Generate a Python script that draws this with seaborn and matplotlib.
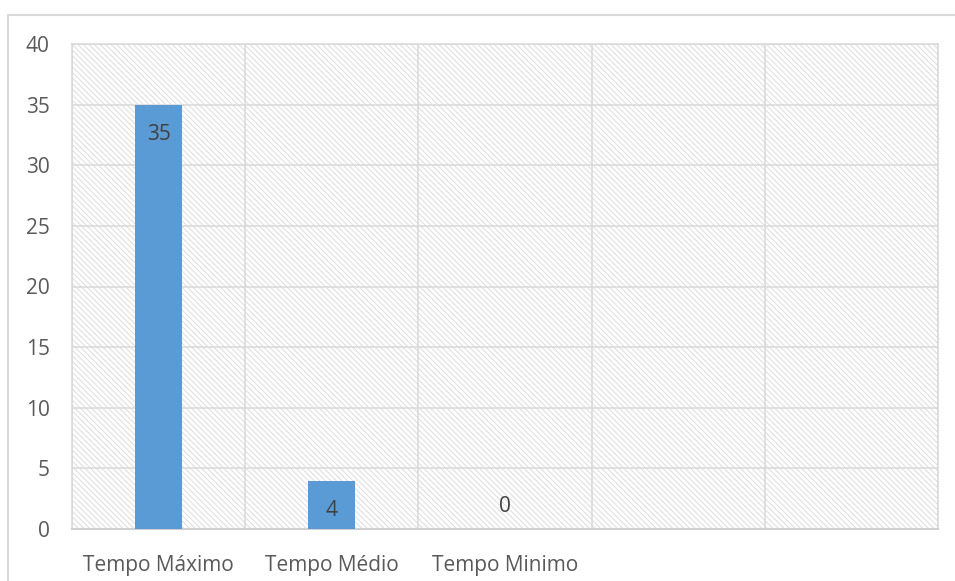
import matplotlib
matplotlib.use("Agg")
import matplotlib.pyplot as plt
import seaborn as sns
import pandas as pd
from matplotlib.patches import Rectangle
from matplotlib.lines import Line2D

categories = ["Tempo Máximo", "Tempo Médio", "Tempo Minimo", " ", "  "]
values = [35, 4, 0, None, None]
yticks = [0, 5, 10, 15, 20, 25, 30, 35, 40]

sns.set_theme(style="white")
plt.rcParams['font.family'] = ['Open Sans', 'DejaVu Sans']
plt.rcParams['hatch.color'] = '#dcdcdc'
plt.rcParams['hatch.linewidth'] = 0.7

df = pd.DataFrame({"cat": categories, "val": values})

fig = plt.figure(figsize=(9.55, 5.81), dpi=100)
ax = fig.add_axes([72/955, 52/581, (938-72)/955, (529-44)/581])

# hatched background
bg = Rectangle((0, 0), 1, 1, transform=ax.transAxes, facecolor='white',
               edgecolor='#dcdcdc', hatch='\\\\\\\\\\\\', lw=0, zorder=0)
ax.add_patch(bg)

sns.barplot(data=df, x="cat", y="val", order=categories, color='#5B9BD5',
            width=0.27, saturation=1, ax=ax, zorder=3, edgecolor='none')

ax.set_ylim(0, 40)
ax.set_xlim(-0.5, len(categories) - 0.5)
ax.set_yticks(yticks)
ax.set_xlabel("")
ax.set_ylabel("")

# gridlines
ax.set_xticks([i + 0.5 for i in range(-1, len(categories))], minor=True)
ax.grid(True, axis='y', which='major', color='#d9d9d9', lw=1.1, zorder=1)
ax.grid(True, axis='x', which='minor', color='#d9d9d9', lw=1.1, zorder=1)
ax.grid(False, axis='x', which='major')
ax.set_axisbelow(True)
for s in ax.spines.values():
    s.set_color('#d9d9d9')
    s.set_linewidth(1.1)
ax.spines['bottom'].set_color('#d0d0d0')
ax.spines['bottom'].set_linewidth(1.5)

ax.tick_params(axis='both', which='both', length=0, colors='#595959', labelsize=15)
ax.tick_params(axis='y', pad=16)
ax.tick_params(axis='x', pad=19)

# data labels
for i, v in enumerate(values):
    if v is None:
        continue
    off = -30 if v > 0 else 22
    ax.annotate(f"{v}", xy=(i, v), xytext=(0, off), textcoords='offset pixels',
                ha='center', va='center', fontsize=15, color='#404040', zorder=5)

# outer frame
fig.add_artist(Line2D([8/955, 1], [1 - 15/581, 1 - 15/581], transform=fig.transFigure,
                      color='#d9d9d9', lw=1.5))
fig.add_artist(Line2D([8/955, 8/955], [0, 1 - 15/581], transform=fig.transFigure,
                      color='#d9d9d9', lw=1.5))

fig.savefig("out.png", dpi=100)
